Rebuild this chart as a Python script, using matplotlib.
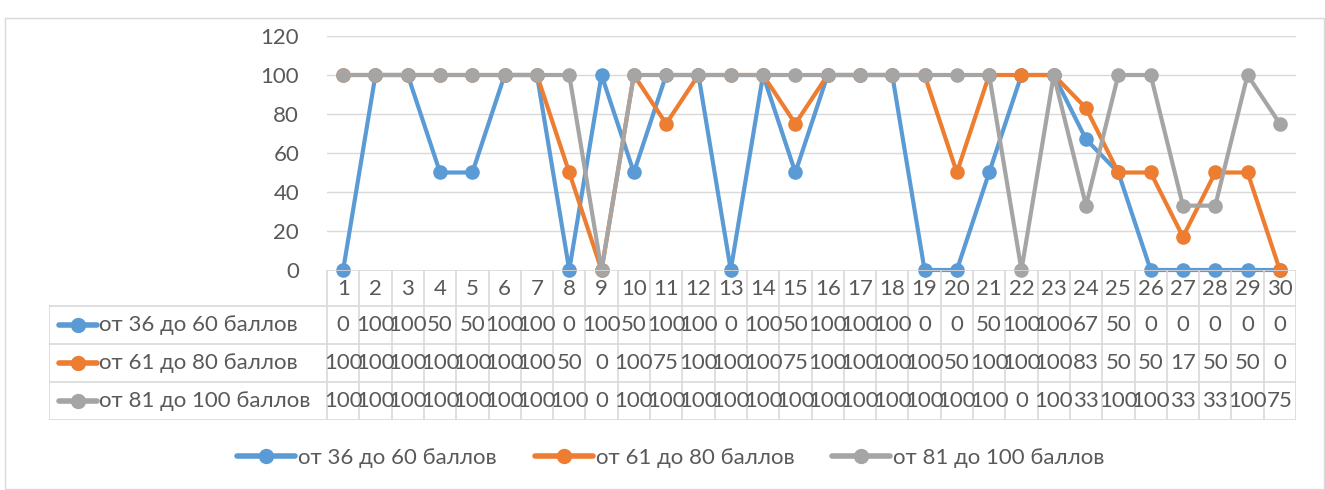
import matplotlib
matplotlib.use("Agg")
import matplotlib.pyplot as plt
from matplotlib.lines import Line2D
from matplotlib.patches import Rectangle

categories = [str(i) for i in range(1, 31)]
series_names = ["от 36 до 60 баллов", "от 61 до 80 баллов", "от 81 до 100 баллов"]
s1 = [0, 100, 100, 50, 50, 100, 100, 0, 100, 50, 100, 100, 0, 100, 50,
      100, 100, 100, 0, 0, 50, 100, 100, 67, 50, 0, 0, 0, 0, 0]
s2 = [100, 100, 100, 100, 100, 100, 100, 50, 0, 100, 75, 100, 100, 100, 75,
      100, 100, 100, 100, 50, 100, 100, 100, 83, 50, 50, 17, 50, 50, 0]
s3 = [100, 100, 100, 100, 100, 100, 100, 100, 0, 100, 100, 100, 100, 100, 100,
      100, 100, 100, 100, 100, 100, 0, 100, 33, 100, 100, 33, 33, 100, 75]
yticks = [0, 20, 40, 60, 80, 100, 120]

series = [s1, s2, s3]
colors = ["#5B9BD5", "#ED7D31", "#A5A5A5"]
grid_c = "#D9D9D9"
text_c = "#595959"
FONT = ["Lato", "Roboto", "DejaVu Sans"]
plt.rcParams["font.family"] = FONT
FS = 16

W, H = 1325, 490
fig = plt.figure(figsize=(W / 100, H / 100), dpi=100)

def fx(px):
    return px / W

def fy(py):
    return 1 - py / H

# chart border
fig.patches.append(Rectangle((fx(5), fy(489)), fx(1319), fy(18) - fy(489),
                             transform=fig.transFigure, fill=False,
                             edgecolor=grid_c, linewidth=1.0))

L, R = 327, 1296
TOP, ZERO = 36, 270
ax = fig.add_axes([fx(L), fy(ZERO), fx(R - L), fy(TOP) - fy(ZERO)])
n = len(categories)
x = list(range(n))
ax.set_xlim(-0.5, n - 0.5)
ax.set_ylim(0, 120)
for yv in yticks[1:]:
    ax.axhline(yv, color=grid_c, lw=1.0, zorder=0)
for s, c in zip(series, colors):
    ax.plot(x, s, color=c, lw=3.0, marker="o", markersize=9.5, zorder=3,
            clip_on=False, solid_joinstyle="round")
for sp in ax.spines.values():
    sp.set_visible(False)
ax.set_xticks([])
ax.set_yticks(yticks)
ax.set_yticklabels([str(v) for v in yticks], fontsize=FS, color=text_c)
ax.tick_params(axis="y", length=0, pad=20)

# data table
TL, TB = 49, 420
rows_y = [ZERO, 306, 344, 382, 420]
colw = (R - L) / n
tax = fig.add_axes([fx(TL), fy(TB), fx(R - TL), fy(ZERO) - fy(TB)])
x_left = -0.5 - (L - TL) / colw
tax.set_xlim(x_left, n - 0.5)
tax.set_ylim(TB, ZERO)
tax.axis("off")

def px2x(px):
    return x_left + (px - TL) / colw

lk = dict(color=grid_c, lw=1.2, zorder=1)
# horizontal lines
tax.plot([-0.5, n - 0.5], [ZERO, ZERO], **lk)
for yy in rows_y[1:]:
    tax.plot([x_left, n - 0.5], [yy, yy], **lk)
# vertical lines
for i in range(n + 1):
    tax.plot([i - 0.5, i - 0.5], [ZERO, TB], **lk)
tax.plot([x_left, x_left], [rows_y[1], TB], **lk)

for i, cat in enumerate(categories):
    tax.text(i, (rows_y[0] + rows_y[1]) / 2 + 1, cat, ha="center", va="center",
             fontsize=FS, color=text_c)
for r, (s, c, name) in enumerate(zip(series, colors, series_names)):
    yc = (rows_y[r + 1] + rows_y[r + 2]) / 2
    for i, v in enumerate(s):
        tax.text(i, yc, str(v), ha="center", va="center", fontsize=FS, color=text_c)
    tax.plot([px2x(59), px2x(97)], [yc, yc], color=c, lw=4, solid_capstyle="round")
    tax.plot([px2x(78)], [yc], color=c, marker="o", markersize=10)
    tax.text(px2x(99), yc, name, ha="left", va="center", fontsize=FS, color=text_c)

# legend
handles = [Line2D([0], [0], color=c, lw=4, marker="o", markersize=10,
                  solid_capstyle="round") for c in colors]
fig.legend(handles, series_names, loc="center", bbox_to_anchor=(fx(671), fy(458)),
           ncol=3, frameon=False, fontsize=FS, labelcolor=text_c,
           handlelength=2.6, handletextpad=0.15, columnspacing=1.7)

fig.savefig("out.png", dpi=100)
